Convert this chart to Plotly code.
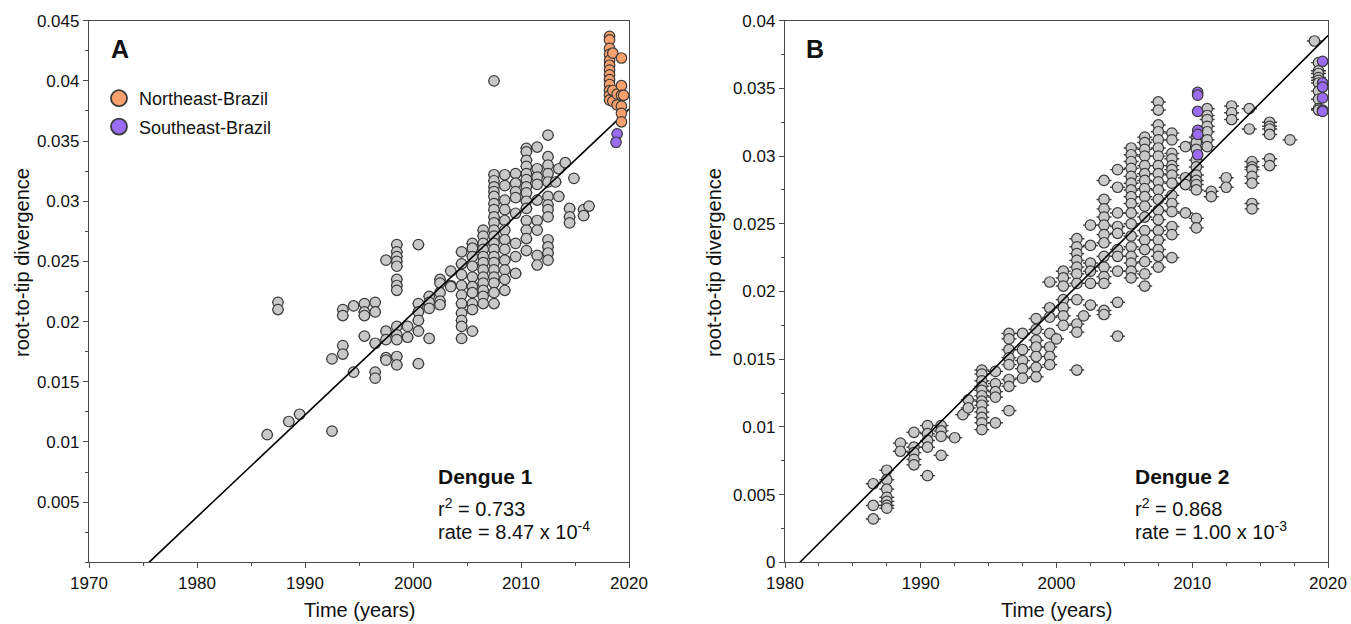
import plotly.graph_objects as go

# ---------------- Dengue 1 (panel A) ----------------
d1_years = [1986.5, 1987.5, 1988.5, 1989.5, 1992.5, 1993.5, 1994.5, 1995.5, 1996.5, 1997.5,
            1998.5, 1999.5, 2000.5, 2001.5, 2002.5, 2003.5, 2004.5, 2005.5, 2006.5, 2007.5,
            2008.5, 2009.5, 2010.5, 2011.5, 2012.5, 2013.2, 2013.5, 2014.1, 2014.5, 2014.9,
            2015.8, 2016.3]
d1_values = [
    [0.0106],
    [0.0216, 0.0210],
    [0.0117],
    [0.0123],
    [0.0169, 0.0109],
    [0.0210, 0.0205, 0.0180, 0.0173],
    [0.0213, 0.0158],
    [0.0215, 0.0208, 0.0205, 0.0188],
    [0.0216, 0.0208, 0.0182, 0.0158, 0.0153],
    [0.0251, 0.0192, 0.0185, 0.0170, 0.0168],
    [0.0264, 0.0258, 0.0254, 0.0250, 0.0246, 0.0235, 0.0230, 0.0226, 0.0196, 0.0189, 0.0185, 0.0171, 0.0164],
    [0.0196, 0.0187],
    [0.0264, 0.0215, 0.0208, 0.0201, 0.0192, 0.0165],
    [0.0221, 0.0216, 0.0211, 0.0186],
    [0.0235, 0.0232, 0.0224, 0.0217, 0.0214],
    [0.0242, 0.0230, 0.0229],
    [0.0258, 0.0248, 0.0239, 0.0230, 0.0222, 0.0215, 0.0207, 0.0201, 0.0196, 0.0186],
    [0.0265, 0.0261, 0.0254, 0.0246, 0.0237, 0.0229, 0.0224, 0.0215, 0.0210, 0.0192],
    [0.0276, 0.0271, 0.0265, 0.0260, 0.0254, 0.0249, 0.0243, 0.0237, 0.0232, 0.0226, 0.0221, 0.0215],
    [0.0400, 0.0322, 0.0317, 0.0312, 0.0308, 0.0304, 0.0298, 0.0293, 0.0287, 0.0282, 0.0276, 0.0271,
     0.0265, 0.0260, 0.0254, 0.0249, 0.0243, 0.0237, 0.0232, 0.0224, 0.0215],
    [0.0322, 0.0313, 0.0301, 0.0293, 0.0284, 0.0276, 0.0268, 0.0260, 0.0251, 0.0243, 0.0235, 0.0226],
    [0.0323, 0.0315, 0.0308, 0.0303, 0.0290, 0.0265, 0.0254, 0.0240],
    [0.0344, 0.0341, 0.0334, 0.0329, 0.0323, 0.0318, 0.0312, 0.0307, 0.0300, 0.0294, 0.0284, 0.0276, 0.0269, 0.0259],
    [0.0345, 0.0327, 0.0320, 0.0314, 0.0301, 0.0284, 0.0276, 0.0255, 0.0247],
    [0.0355, 0.0337, 0.0330, 0.0323, 0.0316, 0.0304, 0.0297, 0.0293, 0.0287, 0.0268, 0.0262, 0.0257, 0.0251],
    [0.0316],
    [0.0327, 0.0304],
    [0.0332],
    [0.0294, 0.0287, 0.0282],
    [0.0319],
    [0.0293, 0.0288],
    [0.0296],
]
d1_ne_years = [2018.2, 2018.5, 2018.9, 2019.3, 2019.5]
d1_ne_values = [
    [0.0437, 0.0434, 0.0427, 0.0422, 0.0417, 0.0413, 0.0409, 0.0405, 0.0401, 0.0397, 0.0392, 0.0388, 0.0384],
    [0.0423, 0.0392, 0.0383],
    [0.0389, 0.0380],
    [0.0419, 0.0396, 0.0388, 0.0379, 0.0373, 0.0366],
    [0.0388],
]
d1_se_years = [2018.9, 2018.8]
d1_se_values = [[0.0356], [0.0349]]
d1_root_year = 1975.55
d1_rate = 8.47e-4

# ---------------- Dengue 2 (panel B) ----------------
d2_years = [1986.5, 1987.5, 1988.5, 1989.5, 1990.5, 1991.5, 1992.5, 1993.1, 1993.5, 1994.5,
            1995.5, 1996.5, 1997.5, 1998.5, 1999.5, 2000.0, 2000.5, 2001.5, 2002.0, 2002.5,
            2003.5, 2004.5, 2005.5, 2006.5, 2007.5, 2008.5, 2009.5, 2010.3, 2011.1, 2011.4,
            2012.5, 2012.9, 2014.2, 2014.4, 2015.7, 2017.2, 2019.0, 2019.3]
d2_values = [
    [0.0058, 0.0042, 0.0032],
    [0.0068, 0.0061, 0.0054, 0.0048, 0.0045, 0.0042, 0.0040],
    [0.0088, 0.0082],
    [0.0096, 0.0085, 0.0081, 0.0076, 0.0072],
    [0.0101, 0.0095, 0.0090, 0.0085, 0.0064],
    [0.0101, 0.0097, 0.0093, 0.0079],
    [0.0092],
    [0.0109],
    [0.0120, 0.0114],
    [0.0142, 0.0139, 0.0134, 0.0130, 0.0127, 0.0123, 0.0119, 0.0116, 0.0111, 0.0107, 0.0103, 0.0098],
    [0.0141, 0.0132, 0.0126, 0.0122, 0.0103],
    [0.0169, 0.0165, 0.0157, 0.0151, 0.0146, 0.0135, 0.0130, 0.0112],
    [0.0169, 0.0157, 0.0149, 0.0143, 0.0136],
    [0.0180, 0.0172, 0.0164, 0.0159, 0.0152, 0.0144, 0.0137],
    [0.0207, 0.0188, 0.0181, 0.0169, 0.0159, 0.0152, 0.0146],
    [0.0165],
    [0.0215, 0.0210, 0.0204, 0.0194, 0.0188, 0.0182, 0.0175],
    [0.0239, 0.0233, 0.0228, 0.0223, 0.0218, 0.0213, 0.0206, 0.0194, 0.0176, 0.0170, 0.0142],
    [0.0182],
    [0.0249, 0.0234, 0.0221, 0.0215, 0.0206, 0.0190],
    [0.0282, 0.0268, 0.0261, 0.0255, 0.0249, 0.0242, 0.0236, 0.0226, 0.0218, 0.0211, 0.0206, 0.0186, 0.0183],
    [0.0290, 0.0277, 0.0258, 0.0248, 0.0243, 0.0231, 0.0226, 0.0215, 0.0192, 0.0167],
    [0.0306, 0.0301, 0.0296, 0.0291, 0.0285, 0.0280, 0.0275, 0.0270, 0.0265, 0.0258, 0.0250, 0.0241,
     0.0233, 0.0226, 0.0221, 0.0215, 0.0210],
    [0.0314, 0.0310, 0.0305, 0.0300, 0.0293, 0.0287, 0.0282, 0.0276, 0.0270, 0.0263, 0.0255, 0.0245,
     0.0238, 0.0231, 0.0222, 0.0213, 0.0204],
    [0.0340, 0.0334, 0.0323, 0.0318, 0.0312, 0.0306, 0.0300, 0.0293, 0.0287, 0.0281, 0.0275, 0.0268,
     0.0260, 0.0253, 0.0245, 0.0238, 0.0231, 0.0226, 0.0218],
    [0.0317, 0.0312, 0.0302, 0.0298, 0.0293, 0.0290, 0.0286, 0.0280, 0.0271, 0.0265, 0.0259, 0.0248, 0.0242, 0.0225],
    [0.0307, 0.0284, 0.0279, 0.0258],
    [0.0314, 0.0310, 0.0305, 0.0297, 0.0292, 0.0286, 0.0282, 0.0279, 0.0275, 0.0254, 0.0247],
    [0.0335, 0.0330, 0.0327, 0.0322, 0.0318, 0.0312, 0.0307],
    [0.0274, 0.0270],
    [0.0284, 0.0277],
    [0.0337, 0.0332, 0.0327],
    [0.0335, 0.0320],
    [0.0296, 0.0292, 0.0290, 0.0285, 0.0280, 0.0265, 0.0261],
    [0.0325, 0.0322, 0.0320, 0.0316, 0.0298, 0.0293],
    [0.0312],
    [0.0385],
    [0.0369, 0.0363, 0.0361, 0.0358, 0.0356, 0.0354, 0.0348, 0.0342, 0.0335, 0.0334],
]
d2_se_years = [2010.4, 2019.6]
d2_se_values = [
    [0.0347, 0.0345, 0.0333, 0.0319, 0.0316, 0.0301],
    [0.0370, 0.0354, 0.0351, 0.0343, 0.0334, 0.0333],
]
d2_root_year = 1981.1
d2_rate = 1.00e-3

# ---------------- axes tick labels ----------------
d1_xticks = [1970, 1980, 1990, 2000, 2010, 2020]
d1_yticks = [0.005, 0.01, 0.015, 0.02, 0.025, 0.03, 0.035, 0.04, 0.045]
d1_yticktext = ["0.005", "0.01", "0.015", "0.02", "0.025", "0.03", "0.035", "0.04", "0.045"]
d2_xticks = [1980, 1990, 2000, 2010, 2020]
d2_yticks = [0, 0.005, 0.01, 0.015, 0.02, 0.025, 0.03, 0.035, 0.04]
d2_yticktext = ["0", "0.005", "0.01", "0.015", "0.02", "0.025", "0.03", "0.035", "0.04"]

GRAY = "#c8c8c8"
ORANGE = "#f7a06b"
PURPLE = "#9a6cf2"
EDGE = "#3a3a3a"
FONT = "Liberation Sans, Arial, sans-serif"
W, H = 1351, 624


def flatten(years, values):
    xs, ys = [], []
    for yr, vals in zip(years, values):
        for v in vals:
            xs.append(yr)
            ys.append(v)
    return xs, ys


def pts(years, values, color, xa, ya, err):
    xs, ys = flatten(years, values)
    return go.Scatter(
        x=xs, y=ys, mode="markers", xaxis=xa, yaxis=ya, showlegend=False,
        marker=dict(size=10.5, color=color, line=dict(color=EDGE, width=1.2)),
        error_x=dict(type="constant", value=err, color=EDGE, thickness=1.4, width=0) if err else None,
        hoverinfo="x+y",
    )


fig = go.Figure()
# panel A
fig.add_trace(pts(d1_years, d1_values, GRAY, "x", "y", 0.55))
fig.add_trace(go.Scatter(x=[d1_root_year, 2020], y=[0, (2020 - d1_root_year) * d1_rate],
                         mode="lines", line=dict(color="black", width=1.6),
                         xaxis="x", yaxis="y", showlegend=False, hoverinfo="skip"))
fig.add_trace(pts(d1_ne_years, d1_ne_values, ORANGE, "x", "y", 0))
fig.add_trace(pts(d1_se_years, d1_se_values, PURPLE, "x", "y", 0))
# panel B
fig.add_trace(pts(d2_years, d2_values, GRAY, "x2", "y2", 0.55))
fig.add_trace(go.Scatter(x=[d2_root_year, 2020], y=[0, (2020 - d2_root_year) * d2_rate],
                         mode="lines", line=dict(color="black", width=1.6),
                         xaxis="x2", yaxis="y2", showlegend=False, hoverinfo="skip"))
fig.add_trace(pts(d2_se_years, d2_se_values, PURPLE, "x2", "y2", 0))

# legend-only entries
fig.add_trace(go.Scatter(x=[None], y=[None], mode="markers", name="Northeast-Brazil",
                         legendgroup="ne", xaxis="x", yaxis="y",
                         marker=dict(size=17, color=ORANGE, line=dict(color=EDGE, width=1.8))))
fig.add_trace(go.Scatter(x=[None], y=[None], mode="markers", name="Southeast-Brazil",
                         legendgroup="se", xaxis="x", yaxis="y",
                         marker=dict(size=17, color=PURPLE, line=dict(color=EDGE, width=1.8))))

L = dict(showline=True, linecolor="#4a4a4a", linewidth=1.3, mirror=True, showgrid=False,
         zeroline=False, ticks="outside", ticklen=5, tickwidth=1.2, tickcolor="#4a4a4a",
         tickfont=dict(family=FONT, size=17, color="#111"))


def px2x(p):
    return p / W


def px2y(p):
    return (H - p) / H


fig.update_layout(
    width=W, height=H, autosize=False,
    margin=dict(l=0, r=0, t=0, b=0, autoexpand=False),
    paper_bgcolor="white", plot_bgcolor="white",
    font=dict(family=FONT, color="#111"),
    xaxis=dict(L, domain=[px2x(89), px2x(629)], range=[1970, 2020], tickmode="array",
               tickvals=d1_xticks, ticktext=[str(v) for v in d1_xticks], anchor="y",
               minor=dict(tickmode="linear", tick0=1970, dtick=5, ticks="outside", ticklen=3,
                          tickcolor="#4a4a4a")),
    yaxis=dict(L, domain=[px2y(562.3), px2y(20.7)], range=[0, 0.045], tickmode="array",
               tickvals=d1_yticks, ticktext=d1_yticktext, anchor="x",
               minor=dict(tickmode="linear", tick0=0, dtick=0.0025, ticks="outside", ticklen=3,
                          tickcolor="#4a4a4a")),
    xaxis2=dict(L, domain=[px2x(785), px2x(1328)], range=[1980, 2020], tickmode="array",
                tickvals=d2_xticks, ticktext=[str(v) for v in d2_xticks], anchor="y2",
                minor=dict(tickmode="linear", tick0=1980, dtick=2.5, ticks="outside", ticklen=3,
                           tickcolor="#4a4a4a")),
    yaxis2=dict(L, domain=[px2y(562.3), px2y(20.7)], range=[0, 0.04], tickmode="array",
                tickvals=d2_yticks, ticktext=d2_yticktext, anchor="x2",
                minor=dict(tickmode="linear", tick0=0, dtick=0.0025, ticks="outside", ticklen=3,
                           tickcolor="#4a4a4a")),
    legend=dict(x=px2x(99), y=px2y(80), xanchor="left", yanchor="top",
                font=dict(family=FONT, size=18, color="#111"), bgcolor="rgba(0,0,0,0)",
                tracegroupgap=2, itemsizing="trace"),
    showlegend=True,
)

ann = []
def add_text(text, x, y, size, xanchor="left", bold=False, angle=0):
    ann.append(dict(text=f"<b>{text}</b>" if bold else text, x=px2x(x), y=px2y(y),
                    xref="paper", yref="paper", showarrow=False, xanchor=xanchor,
                    yanchor="middle", textangle=angle,
                    font=dict(family=FONT, size=size, color="#111")))

add_text("A", 120, 49, 25, xanchor="center", bold=True)
add_text("B", 815, 49, 25, xanchor="center", bold=True)
add_text("root-to-tip divergence", 22, 263, 20, xanchor="center", angle=-90)
add_text("root-to-tip divergence", 714, 263, 20, xanchor="center", angle=-90)
add_text("Time (years)", 359, 610, 20, xanchor="center")
add_text("Time (years)", 1056, 610, 20, xanchor="center")
add_text("Dengue 1", 436, 476, 21, bold=True)
add_text("r<sup>2</sup> = 0.733", 436, 507, 20)
add_text("rate = 8.47 x 10<sup>-4</sup>", 436, 530, 20)
add_text("Dengue 2", 1133, 476, 21, bold=True)
add_text("r<sup>2</sup> = 0.868", 1133, 507, 20)
add_text("rate = 1.00 x 10<sup>-3</sup>", 1133, 530, 20)
fig.update_layout(annotations=ann)

fig.write_html("out.html", config={"displayModeBar": False},
               post_script="document.body.style.margin='0';")
